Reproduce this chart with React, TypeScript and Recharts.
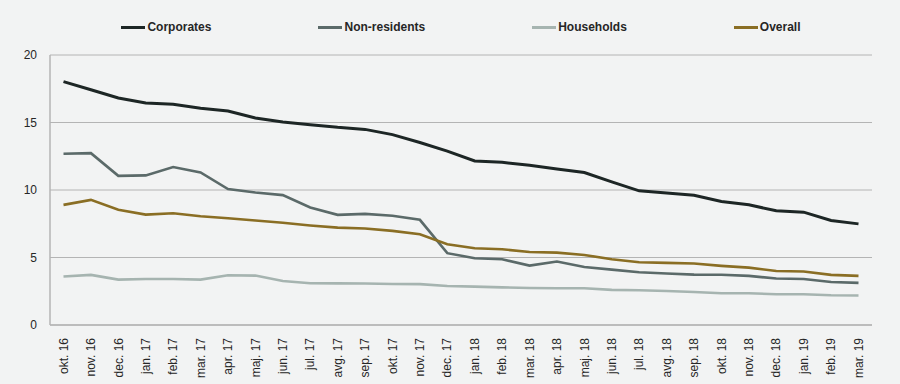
import { LineChart, Line, XAxis, YAxis, CartesianGrid } from 'recharts'

const months = [
  'okt. 16', 'nov. 16', 'dec. 16', 'jan. 17', 'feb. 17', 'mar. 17', 'apr. 17', 'maj. 17',
  'jun. 17', 'jul. 17', 'avg. 17', 'sep. 17', 'okt. 17', 'nov. 17', 'dec. 17', 'jan. 18',
  'feb. 18', 'mar. 18', 'apr. 18', 'maj. 18', 'jun. 18', 'jul. 18', 'avg. 18', 'sep. 18',
  'okt. 18', 'nov. 18', 'dec. 18', 'jan. 19', 'feb. 19', 'mar. 19'
]

const corporates = [
  18.03, 17.43, 16.82, 16.45, 16.35, 16.05, 15.85, 15.33, 15.04, 14.84, 14.64, 14.49, 14.1, 13.52, 12.88,
  12.15, 12.05, 11.84, 11.55, 11.29, 10.6, 9.94, 9.77, 9.61, 9.15, 8.9, 8.46, 8.36, 7.74, 7.49
]

const nonResidents = [
  12.69, 12.73, 11.05, 11.08, 11.7, 11.3, 10.07, 9.82, 9.62, 8.7, 8.16, 8.23, 8.09, 7.79, 5.32,
  4.95, 4.87, 4.4, 4.7, 4.3, 4.1, 3.91, 3.81, 3.73, 3.72, 3.64, 3.44, 3.41, 3.19, 3.12
]

const households = [
  3.59, 3.71, 3.36, 3.41, 3.41, 3.36, 3.68, 3.66, 3.26, 3.09, 3.08, 3.07, 3.04, 3.03, 2.89,
  2.84, 2.79, 2.74, 2.72, 2.72, 2.6, 2.57, 2.52, 2.45, 2.35, 2.35, 2.28, 2.28, 2.2, 2.18
]

const overall = [
  8.9, 9.27, 8.53, 8.18, 8.28, 8.06, 7.91, 7.74, 7.57, 7.37, 7.21, 7.15, 6.97, 6.72, 5.98,
  5.69, 5.61, 5.41, 5.36, 5.19, 4.87, 4.65, 4.6, 4.55, 4.38, 4.25, 4.0, 3.96, 3.71, 3.64
]

const yTicks = [0, 5, 10, 15, 20]

const series = [
  { key: 'corporates', name: 'Corporates', color: '#1d2625', width: 3 },
  { key: 'nonResidents', name: 'Non-residents', color: '#5b6a69', width: 2.6 },
  { key: 'households', name: 'Households', color: '#a6b4b0', width: 2.6 },
  { key: 'overall', name: 'Overall', color: '#8a6e24', width: 2.6 }
]

const data = months.map((m, i) => ({
  month: m,
  corporates: corporates[i],
  nonResidents: nonResidents[i],
  households: households[i],
  overall: overall[i]
}))

const font = '"Liberation Sans", Arial, sans-serif'
const textColor = '#262626'
const axisColor = '#b4b4b4'

// rotated month labels under the axis
function MonthTick({ x, y, payload }: any) {
  return (
    <g transform={`translate(${x},${y + 5})`}>
      <text
        transform="rotate(-90)"
        textAnchor="end"
        dy="0.35em"
        fontSize={12}
        fontFamily={font}
        fill={textColor}
      >
        {payload.value}
      </text>
    </g>
  )
}

export default function App() {
  return (
    <div style={{ position: 'absolute', left: 0, top: 0, width: 900, height: 384, background: '#f2f3f3' }}>
      <div
        style={{
          position: 'absolute',
          left: 50,
          top: 18,
          width: 822,
          display: 'flex',
          justifyContent: 'center',
          gap: 107,
          fontFamily: font,
          fontWeight: 'bold',
          fontSize: 12,
          color: textColor,
          lineHeight: '18px'
        }}
      >
        {series.map(s => (
          <div key={s.key} style={{ display: 'flex', alignItems: 'center' }}>
            <span style={{ display: 'inline-block', width: 24, height: 3, background: s.color, marginRight: 2 }} />
            <span>{s.name}</span>
          </div>
        ))}
      </div>
      <LineChart width={900} height={384} data={data} margin={{ top: 55, right: 28, bottom: 0, left: 0 }}>
        <CartesianGrid vertical={false} stroke={axisColor} strokeWidth={1} />
        <XAxis
          dataKey="month"
          interval={0}
          height={59}
          padding={{ left: 13.5, right: 13.5 }}
          stroke={axisColor}
          strokeWidth={1.5}
          tickLine={false}
          tick={<MonthTick />}
        />
        <YAxis
          domain={[0, 20]}
          ticks={yTicks}
          width={50}
          stroke={axisColor}
          strokeWidth={1.5}
          tickLine={false}
          tickSize={6}
          tickMargin={7}
          tick={{ fill: textColor, fontSize: 12, fontFamily: font }}
        />
        {series.map(s => (
          <Line
            key={s.key}
            type="linear"
            dataKey={s.key}
            name={s.name}
            stroke={s.color}
            strokeWidth={s.width}
            dot={false}
            isAnimationActive={false}
          />
        ))}
      </LineChart>
    </div>
  )
}
